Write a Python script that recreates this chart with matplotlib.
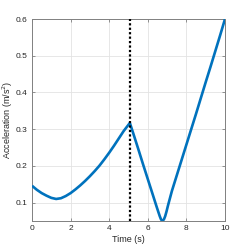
import matplotlib
matplotlib.use("Agg")
import matplotlib.pyplot as plt
import numpy as np

# values
t = [0, 0.25, 0.5, 0.75, 1.0, 1.25, 1.5, 1.75, 2.0, 2.25, 2.5, 2.75, 3.0, 3.25,
     3.5, 3.75, 4.0, 4.25, 4.5, 4.75, 5.07,
     5.25, 5.5, 5.75, 6.0, 6.25, 6.45, 6.55, 6.62, 6.68, 6.73, 6.78, 6.84, 6.9,
     6.97, 7.05, 7.25, 7.5, 7.75, 8.0, 8.25, 8.5, 8.75, 9.0, 9.25, 9.5, 9.75, 10]
acc = [0.146, 0.135, 0.126, 0.119, 0.113, 0.110, 0.112, 0.118, 0.126, 0.136,
       0.147, 0.159, 0.172, 0.186, 0.201, 0.218, 0.236, 0.255, 0.275, 0.295, 0.317,
       0.288, 0.247, 0.205, 0.164, 0.123, 0.090, 0.074, 0.063, 0.055, 0.051,
       0.051, 0.055, 0.063, 0.076, 0.093, 0.132, 0.174, 0.216, 0.258, 0.300,
       0.342, 0.385, 0.428, 0.470, 0.513, 0.556, 0.600]
t_mark = 5.07
xticks = [0, 2, 4, 6, 8, 10]
yticks = [0.1, 0.2, 0.3, 0.4, 0.5, 0.6]

plt.rcParams['font.family'] = ['Liberation Sans', 'DejaVu Sans']

fig = plt.figure(figsize=(2.49, 2.49), dpi=100)
ax = fig.add_axes([32/249, 1 - 221/249, 193/249, 202/249])

ax.plot(t, acc, color='#0072BD', lw=1.9, solid_capstyle='butt',
        solid_joinstyle='round', zorder=3)
ax.axvline(t_mark, color='k', ls=(0, (1, 1)), lw=1.6, zorder=4)

ax.set_xlim(0, 10)
ax.set_ylim(0.05, 0.6)
ax.set_xticks(xticks)
ax.set_yticks(yticks)
ax.set_yticklabels([f"{v:g}" for v in yticks])
ax.grid(True, color='#e3e3e3', lw=0.6)
ax.set_axisbelow(True)

for s in ax.spines.values():
    s.set_color('#808080')
    s.set_linewidth(0.7)
ax.tick_params(direction='in', length=2.5, width=0.6, color='#808080',
               labelsize=6, labelcolor='#262626', top=True, right=True, pad=3)

ax.set_xlabel('Time (s)', fontsize=6.5, color='#262626', labelpad=2)
ax.set_ylabel('Acceleration (m/s$^2$)', fontsize=6.5, color='#262626', labelpad=1)

fig.savefig('out.png', dpi=100)
